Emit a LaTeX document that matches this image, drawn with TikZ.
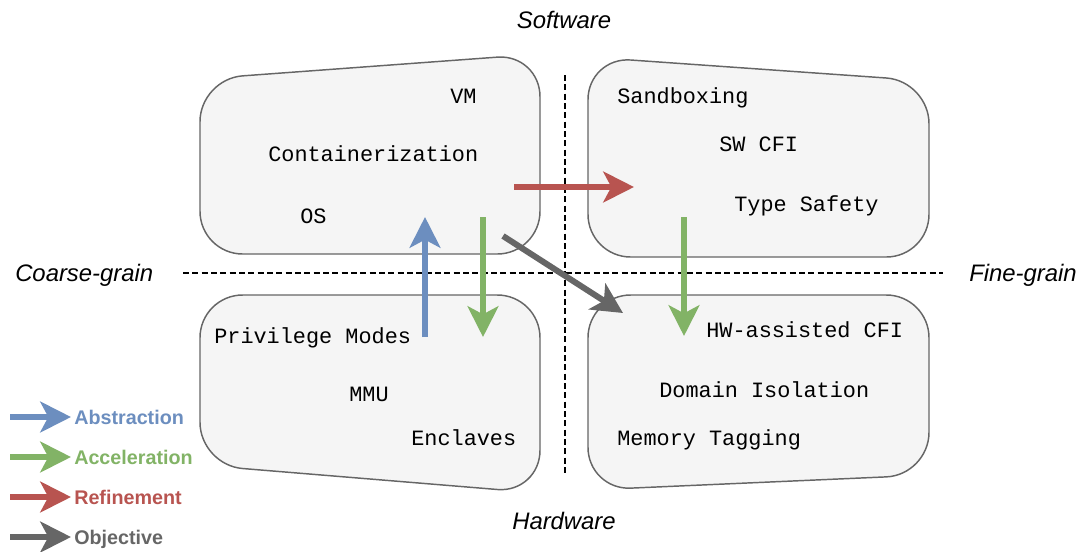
\documentclass[tikz,border=0pt]{standalone}
\usepackage{fontspec}
\setmainfont{Liberation Sans}
\setmonofont{Liberation Mono}
\usetikzlibrary{arrows.meta}
\definecolor{boxfill}{HTML}{F5F5F5}
\definecolor{boxline}{HTML}{666666}
\definecolor{abscol}{HTML}{6C8EBF}
\definecolor{acccol}{HTML}{82B366}
\definecolor{refcol}{HTML}{B85450}
\definecolor{objcol}{HTML}{666666}

\begin{document}
\begin{tikzpicture}[x=0.75pt, y=-0.75pt,
    area/.style={draw=boxline, fill=boxfill, line width=1.1pt, rounded corners=32pt},
    item/.style={font=\ttfamily\fontsize{16.4}{19}\selectfont, anchor=base west, inner sep=0pt},
    side/.style={font=\itshape\fontsize{17.9}{21}\selectfont, anchor=base, inner sep=0pt},
    flow/.style={line width=4.5pt, -{Stealth[length=23pt, width=23pt, inset=6pt]}},
    key/.style={font=\bfseries\fontsize{14.8}{17}\selectfont, anchor=base west, inner sep=0pt},
    axis/.style={line width=1.1pt, dash pattern=on 4.5pt off 2.5pt}]
    \useasboundingbox (0,0) rectangle (1079,551);

    \draw[area] (200,79) -- (540,54) -- (540,254) -- (200,254) -- cycle;
    \draw[area] (588,57) -- (929,81) -- (929,257) -- (588,257) -- cycle;
    \draw[area] (200,295) -- (540,295) -- (540,493) -- (200,465) -- cycle;
    \draw[area] (588,295) -- (929,295) -- (929,475) -- (588,490) -- cycle;

    \coordinate (west) at (183,273);
    \coordinate (east) at (943,273);
    \coordinate (north) at (565,75);
    \coordinate (south) at (565,475);
    \draw[axis] (west) -- (east);
    \draw[axis] (north) -- (south);

    \node[side] (software) at (564,28.5) {Software};
    \node[side] (hardware) at (564,529) {Hardware};
    \node[side, anchor=base west] (coarse) at (15,281) {Coarse-grain};
    \node[side, anchor=base west] (fine) at (969,281) {Fine-grain};

    \node[item] (vm) at (450,103) {VM};
    \node[item] (cont) at (268,161) {Containerization};
    \node[item] (os) at (300,223) {OS};
    \node[item] (sandbox) at (617,103) {Sandboxing};
    \node[item] (swcfi) at (719,151) {SW CFI};
    \node[item] (types) at (734,211) {Type Safety};
    \node[item] (priv) at (214,343) {Privilege Modes};
    \node[item] (mmu) at (349,401) {MMU};
    \node[item] (encl) at (411,445) {Enclaves};
    \node[item] (hwcfi) at (706,337) {HW-assisted CFI};
    \node[item] (domain) at (659,397) {Domain Isolation};
    \node[item] (memtag) at (617,445) {Memory Tagging};

    \coordinate (abs-a) at (425,337);
    \coordinate (abs-b) at (425,217);
    \coordinate (acc-a) at (483,217);
    \coordinate (acc-b) at (483,337);
    \coordinate (ref-a) at (514,187);
    \coordinate (ref-b) at (634,187);
    \coordinate (fac-a) at (684,217);
    \coordinate (fac-b) at (684,336);
    \coordinate (obj-a) at (503,236);
    \coordinate (obj-b) at (623,313);

    \path
    (abs-a) edge[flow, abscol] (abs-b)
    (acc-a) edge[flow, acccol] (acc-b)
    (ref-a) edge[flow, refcol] (ref-b)
    (fac-a) edge[flow, acccol] (fac-b)
    (obj-a) edge[flow, objcol] (obj-b);

    \foreach \name/\col/\y in {Abstraction/abscol/417, Acceleration/acccol/457,
      Refinement/refcol/497, Objective/objcol/537} {
      \coordinate (\name-a) at (10,\y);
      \coordinate (\name-b) at (71,\y);
      \path (\name-a) edge[flow, \col] (\name-b);
      \node[key, text=\col] (\name) at (74,\y+7) {\name};
    }
\end{tikzpicture}
\end{document}
